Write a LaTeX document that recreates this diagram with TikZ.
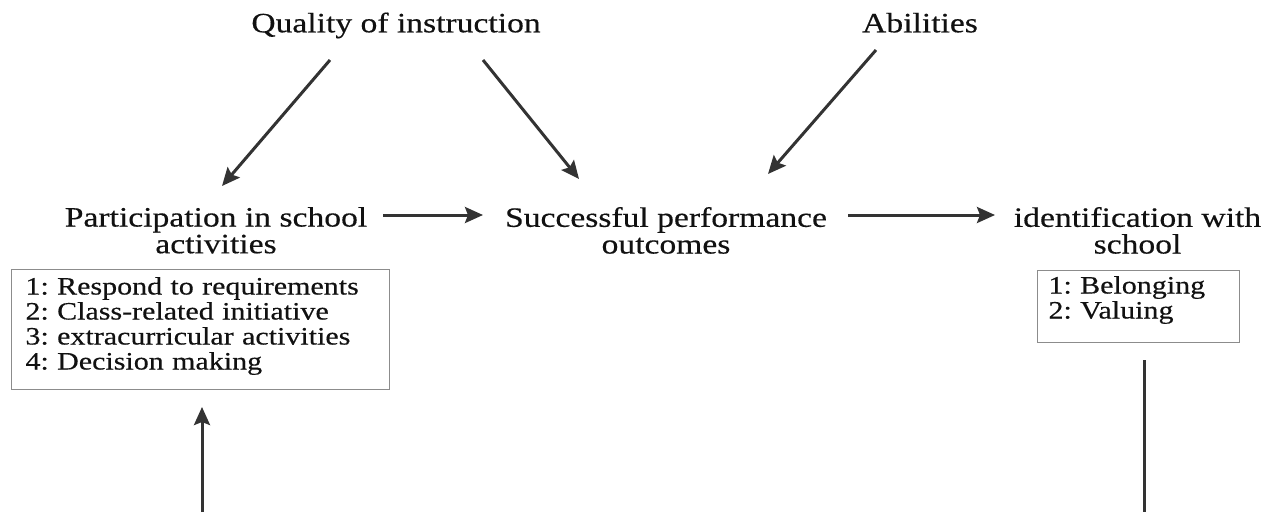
\documentclass[tikz,border=0pt]{standalone}
\usepackage{fontspec}
\setmainfont{Liberation Serif}[FakeStretch=1.2, FakeBold=0.4]
\usetikzlibrary{arrows.meta}
\definecolor{ln}{HTML}{333333}
\definecolor{tx}{HTML}{111111}
\definecolor{bx}{HTML}{8C8C8C}
\tikzset{
  head/.style={text=tx, inner sep=0pt, font=\fontsize{28}{26.7}\selectfont\frenchspacing},
  twohead/.style={head, align=center, anchor=north},
  listbox/.style={draw=bx, line width=1pt, text=tx, align=left, anchor=north west,
    font=\fontsize{25}{25}\selectfont\frenchspacing, text height=17pt},
  arr/.style={draw=ln, line width=3pt, -{Stealth[length=18pt, width=16pt, inset=3pt]}},
  plain/.style={draw=ln, line width=3pt}
}
\begin{document}
\begin{tikzpicture}[x=1pt, y=-1pt]
\useasboundingbox (0,0) rectangle (1277,512);
% nodes
\node[head, anchor=base] (qual) at (396,32.3) {Quality of instruction};
\node[head, anchor=base] (abil) at (920,32.3) {Abilities};
\node[twohead] (part) at (216,206.9) {Participation in school\\activities};
\node[twohead] (succ) at (666,206.9) {Successful performance\\outcomes};
\node[twohead] (iden) at (1137.5,206.9) {identification with\\school};
\node[listbox, inner xsep=14pt, inner ysep=8pt, text width=350pt, text depth=87pt] (plist) at (11,269)
  {1: Respond to requirements\\2: Class-related initiative\\3: extracurricular activities\\4: Decision making};
\node[listbox, inner xsep=11pt, inner ysep=6pt, text width=180pt, text depth=42.7pt] (ilist) at (1037,270)
  {1: Belonging\\2: Valuing};
% connector end points
\coordinate (qualL) at (330,60);
\coordinate (qualR) at (483,60);
\coordinate (abilS) at (876,50);
\coordinate (partT) at (222,186);
\coordinate (succTL) at (579,179);
\coordinate (succTR) at (768,174);
\coordinate (partR) at (383,215);
\coordinate (succL) at (483,215);
\coordinate (succR) at (848,215);
\coordinate (idenL) at (995,215);
\coordinate (plistB) at (202,407);
\coordinate (botL) at (202,512);
\coordinate (ilistB) at (1144,360);
\coordinate (botR) at (1144,512);
% connectors
\draw[arr] (qualL) -- (partT);
\draw[arr] (qualR) -- (succTL);
\draw[arr] (abilS) -- (succTR);
\draw[arr] (partR) -- (succL);
\draw[arr] (succR) -- (idenL);
\draw[arr] (botL) -- (plistB);
\draw[plain] (ilistB) -- (botR);
\end{tikzpicture}
\end{document}
